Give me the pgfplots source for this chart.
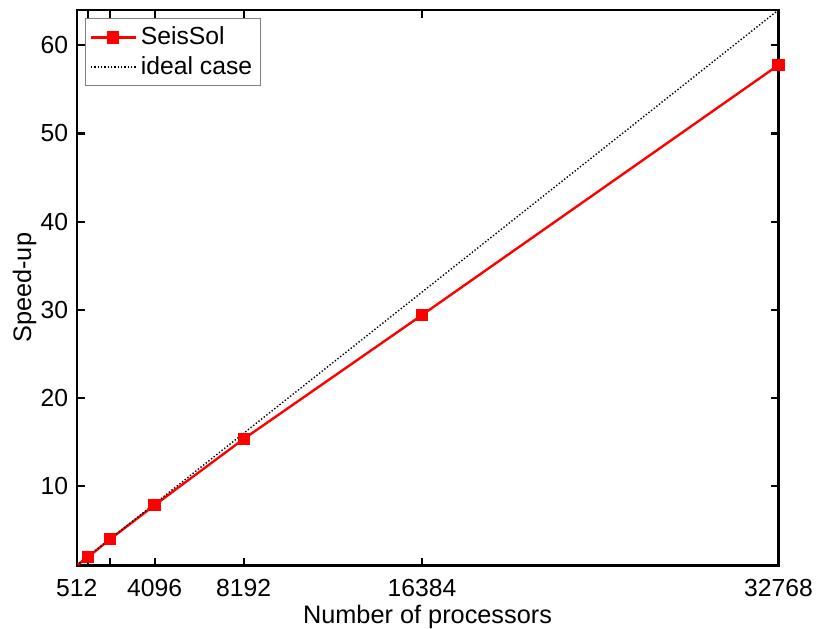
\documentclass[border={6.5pt 0pt 0pt 4.5pt}]{standalone}
\usepackage{pgfplots}
\pgfplotsset{compat=1.18}
\usepackage{fontspec}
\setmainfont{Liberation Sans}

\pgfplotsset{
    seisleg/.style={legend image code/.code={
        \draw[red, line width=1.2pt] (0cm,0cm) -- (0.8cm,0cm);
        \fill[red] (0.4cm,0cm) +(-2.5pt,-2.5pt) rectangle +(2.5pt,2.5pt);
    }},
    idealleg/.style={legend image code/.code={
        \draw[black, densely dotted, line width=0.7pt] (0cm,0cm) -- (0.8cm,0cm);
    }},
}

\begin{document}
\fontsize{12.5}{14}\selectfont
\begin{tikzpicture}
\begin{axis}[
    scale only axis,
    width=355pt,
    height=281pt,
    xmin=512, xmax=32768,
    ymin=1, ymax=64,
    xtick={512,1024,2048,4096,8192,16384,32768},
    xticklabels={512,,,4096,8192,16384,32768},
    ytick={10,20,30,40,50,60},
    xlabel={Number of processors},
    ylabel={Speed-up},
    xlabel style={at={(axis description cs:0.5,0)}, anchor=north, inner sep=0pt, yshift=-20pt},
    ylabel style={inner sep=0pt, yshift=-2.3pt},
    xticklabel style={yshift=-2.5pt},
    /pgf/number format/assume math mode=true,
    scaled x ticks=false,
    tick align=inside,
    major tick length=4pt,
    axis line style={line width=1.1pt},
    every tick/.style={black, line width=1.1pt},
    tick label style={font=\fontsize{12.5}{14}\selectfont},
    label style={font=\fontsize{12.8}{14}\selectfont},
    legend style={at={(0.012,0.985)}, anchor=north west, draw=gray, line width=0.6pt,
        font=\fontsize{12.5}{14}\selectfont, cells={anchor=west}, inner sep=2pt},
    legend cell align=left,
]
\addplot[red, line width=1.2pt, mark=square*, mark size=2.5pt, mark options={solid, fill=red},
    mark indices={2,3,4,5,6,7}, seisleg] coordinates {
    (512,1) (1024,1.93) (2048,3.98) (4096,7.84) (8192,15.35) (16384,29.4) (32768,57.75)
};
\addplot[black, densely dotted, line width=0.7pt, idealleg] coordinates {
    (512,1) (32768,64)
};
\legend{SeisSol, ideal case}
\end{axis}
\end{tikzpicture}
\end{document}
